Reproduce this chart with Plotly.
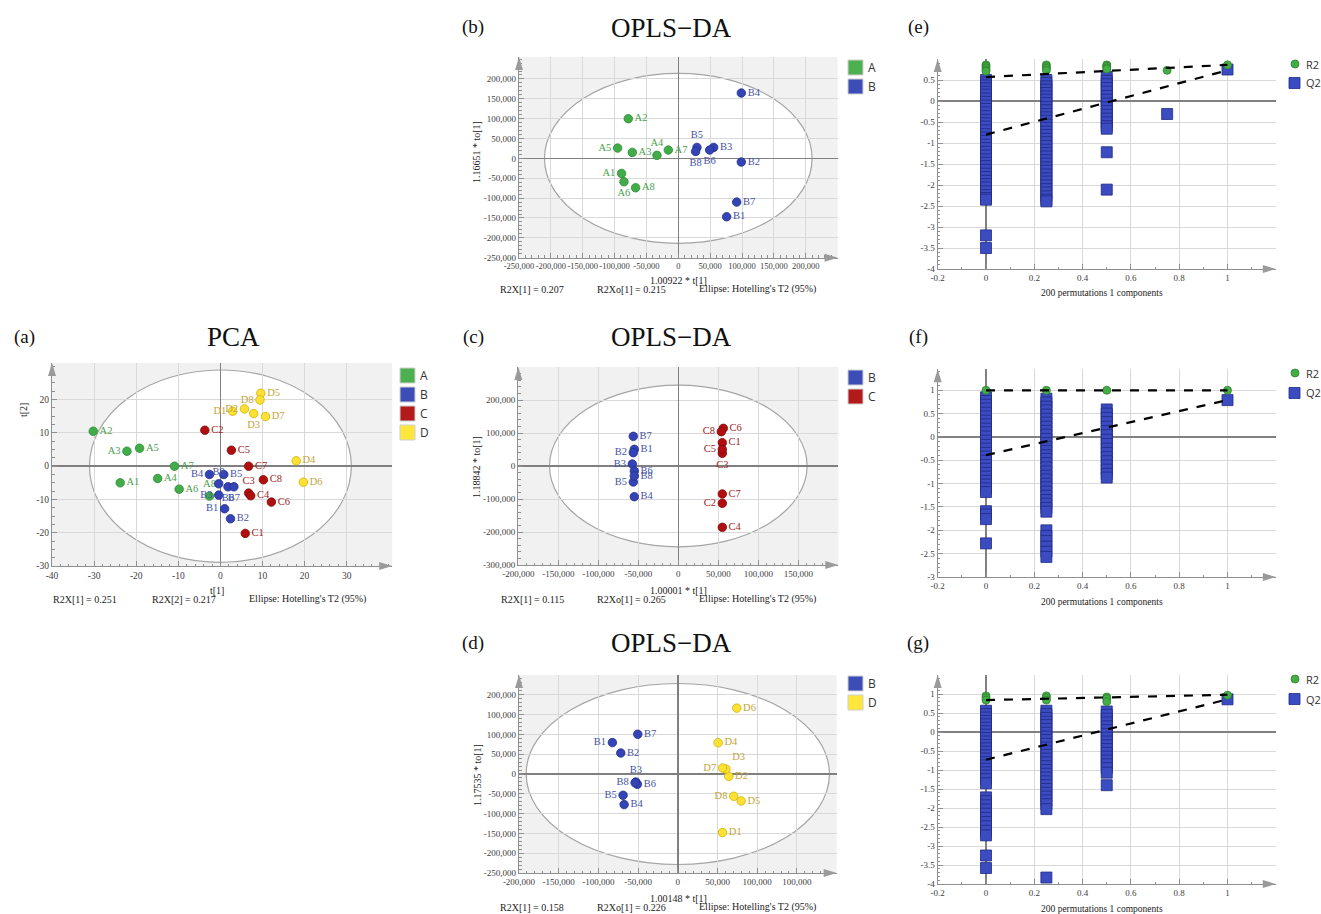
import plotly.graph_objects as go

W, H = 1321, 914
SERIF = "Liberation Serif"
SANS = "Open Sans"

# ---------------- data ----------------
# (a) PCA scores
pca_A_names = ["A1", "A2", "A3", "A4", "A5", "A6", "A7", "A8"]
pca_A_t1 = [-23.8, -30.2, -22.2, -14.9, -19.2, -9.8, -10.9, -2.6]
pca_A_t2 = [-5.0, 10.5, 4.5, -3.7, 5.4, -6.9, 0.0, -9.0]
pca_B_names = ["B1", "B2", "B3", "B4", "B5", "B6", "B7", "B8"]
pca_B_t1 = [1.0, 2.4, -0.4, -2.6, 0.8, 1.8, 3.2, -0.4]
pca_B_t2 = [-12.8, -15.8, -8.7, -2.5, -2.5, -6.2, -6.2, -5.3]
pca_C_names = ["C1", "C2", "C3", "C4", "C5", "C6", "C7", "C8"]
pca_C_t1 = [5.9, -3.7, 6.7, 7.2, 2.6, 12.1, 6.7, 10.2]
pca_C_t2 = [-20.2, 10.8, -8.1, -8.9, 4.8, -10.8, 0.0, -4.1]
pca_D_names = ["D1", "D2", "D3", "D4", "D5", "D6", "D7", "D8"]
pca_D_t1 = [2.9, 5.7, 7.9, 18.0, 9.6, 19.7, 10.7, 9.4]
pca_D_t2 = [16.5, 17.2, 15.8, 1.6, 21.9, -4.8, 14.9, 19.9]
pca_ellipse = [31.1, 28.9]

# (b) OPLS-DA A vs B
b_A_t = [-89000, -78500, -72200, -33500, -95200, -85300, -15700, -67000]
b_A_to = [-37800, 99900, 15100, 7600, 26000, -58800, 21000, -73900]
b_B_t = [75900, 98900, 55500, 98900, 29300, 49200, 91600, 27200]
b_B_to = [-146900, -9200, 27700, 164600, 27700, 21000, -110000, 17600]
b_ellipse = [210000, 214000]

# (c) OPLS-DA B vs C
c_B_t = [-55000, -56250, -57500, -55000, -56250, -55000, -56250, -55000]
c_B_to = [50500, 40400, 6000, -92900, -48500, -15200, 89900, -30300]
c_C_t = [55000, 55000, 55000, 55000, 55000, 56250, 55000, 53750]
c_C_to = [70700, -113100, 38400, -185900, 50500, 114100, -84800, 104000]
c_ellipse = [161000, 245000]

# (d) OPLS-DA B vs D
d_B_t = [-82400, -71800, -52900, -67600, -68900, -50900, -50400, -53800]
d_B_to = [79300, 53000, -20200, -77300, -53800, -26000, 100300, -22200]
d_D_t = [56300, 64200, 60500, 50800, 79800, 74300, 56300, 70500]
d_D_to = [-147900, -5900, 12600, 79000, -68100, 166400, 15100, -56300]
d_ellipse = [191000, 228500]

# permutation tests (x = correlation between permuted and original Y)
e_q2_x0 = [0.50, 0.44, 0.37, 0.30, 0.22, 0.15, 0.06, -0.02, -0.11, -0.19, -0.27, -0.36, -0.45,
           -0.53, -0.61, -0.70, -0.79, -0.87, -0.95, -1.04, -1.12, -1.21, -1.30, -1.39, -1.47,
           -1.55, -1.64, -1.73, -1.81, -1.90, -1.98, -2.06, -2.15, -2.24, -2.31, -2.35, -3.20, -3.50]
e_q2_x25 = [0.50, 0.43, 0.35, 0.27, 0.19, 0.11, 0.03, -0.05, -0.14, -0.22, -0.31, -0.39, -0.47,
            -0.56, -0.64, -0.73, -0.81, -0.90, -0.98, -1.07, -1.16, -1.24, -1.32, -1.41, -1.49,
            -1.58, -1.66, -1.75, -1.84, -1.92, -2.01, -2.10, -2.18, -2.27, -2.35, -2.39]
e_q2_x50 = [0.57, 0.48, 0.40, 0.31, 0.22, 0.12, 0.03, -0.06, -0.15, -0.24, -0.33, -0.42, -0.51,
            -0.60, -0.66, -1.22, -2.11]
e_q2_x75 = [-0.31]
e_q2_x100 = [0.75]
e_r2_x0 = [0.86, 0.83, 0.79, 0.74, 0.71]
e_r2_x25 = [0.86, 0.82, 0.78, 0.73]
e_r2_x50 = [0.86, 0.83, 0.79, 0.76]
e_r2_x75 = [0.73]
e_r2_x100 = [0.86]
e_r2_line = [0.57, 0.86]
e_q2_line = [-0.80, 0.73]

f_q2_x0 = [0.85, 0.77, 0.69, 0.61, 0.52, 0.44, 0.35, 0.27, 0.18, 0.10, 0.01, -0.08, -0.17, -0.25,
           -0.34, -0.42, -0.51, -0.60, -0.68, -0.77, -0.85, -0.94, -1.02, -1.10, -1.18, -1.59,
           -1.66, -1.76, -2.28]
f_q2_x25 = [0.82, 0.74, 0.65, 0.57, 0.48, 0.39, 0.31, 0.22, 0.13, 0.05, -0.04, -0.13, -0.21,
            -0.30, -0.39, -0.47, -0.56, -0.65, -0.74, -0.83, -0.91, -1.00, -1.08, -1.17, -1.26,
            -1.35, -1.43, -1.52, -1.60, -2.00, -2.12, -2.23, -2.35, -2.46, -2.57]
f_q2_x50 = [0.59, 0.50, 0.41, 0.32, 0.22, 0.13, 0.04, -0.06, -0.15, -0.25, -0.34, -0.43, -0.52,
            -0.61, -0.70, -0.79, -0.87]
f_q2_x100 = [0.79]
f_r2_x0 = [1.0]
f_r2_x25 = [1.0]
f_r2_x50 = [1.0]
f_r2_x100 = [1.0]
f_r2_line = [1.0, 1.0]
f_q2_line = [-0.39, 0.79]

g_q2_x0 = [0.56, 0.47, 0.38, 0.29, 0.20, 0.11, 0.02, -0.07, -0.16, -0.25, -0.34, -0.43, -0.52,
           -0.61, -0.70, -0.79, -0.88, -0.97, -1.06, -1.15, -1.24, -1.35, -1.72, -1.82, -1.93,
           -2.04, -2.15, -2.26, -2.37, -2.48, -2.60, -2.72, -3.25, -3.58]
g_q2_x25 = [0.56, 0.47, 0.37, 0.27, 0.18, 0.08, -0.02, -0.12, -0.21, -0.31, -0.41, -0.51, -0.60,
            -0.70, -0.80, -0.90, -1.00, -1.10, -1.20, -1.30, -1.40, -1.50, -1.60, -1.70, -1.80,
            -1.90, -2.03, -3.83]
g_q2_x50 = [0.54, 0.45, 0.35, 0.25, 0.15, 0.05, -0.05, -0.15, -0.25, -0.35, -0.45, -0.55, -0.65,
            -0.75, -0.85, -0.95, -1.07, -1.40]
g_q2_x100 = [0.86]
g_r2_x0 = [0.95, 0.90, 0.84]
g_r2_x25 = [0.95, 0.90, 0.84]
g_r2_x50 = [0.92, 0.88, 0.80]
g_r2_x100 = [0.97]
g_r2_line = [0.84, 0.98]
g_q2_line = [-0.73, 0.86]

perm_x_levels = [0, 0.25, 0.5, 0.75, 1]
line_x = [0, 1]

# ---------------- styles ----------------
MK = {"A": "#40ad48", "B": "#3444b6", "C": "#b10f0f", "D": "#ffe135"}
MK_LINE = {"A": "#2f8a36", "B": "#232f8c", "C": "#7d0a0a", "D": "#cdb100"}
TXT = {"A": "#4c9f4c", "B": "#4652a4", "C": "#a01c1c", "D": "#c2a53a"}
LEG = {"A": "#4cb050", "B": "#3c4db8", "C": "#b31b1b", "D": "#ffe63b"}

R, L, T, B, TR = "middle right", "middle left", "top center", "bottom center", "top right"
pca_A_pos = [R, R, L, R, R, R, R, T]
pca_B_pos = [L, R, L, L, R, B, B, T]
pca_C_pos = [R, R, T, R, R, R, R, R]
pca_D_pos = [L, L, B, R, R, R, R, L]
b_A_pos = [L, R, R, T, L, B, R, R]
b_B_pos = [R, R, R, R, T, B, R, B]
c_B_pos = [R, L, L, R, L, R, R, R]
c_C_pos = [R, L, B, R, L, R, R, L]
d_B_pos = [L, R, T, R, L, R, R, L]
d_D_pos = [R, R, TR, R, R, R, L, L]

# panel rectangles in pixels (x0, x1, y0, y1)
RECT = {
    "a": (52, 392.2, 363, 566),
    "b": (519, 837.6, 57.1, 257.7),
    "c": (518.3, 838.3, 367, 565),
    "d": (519, 836.6, 675, 873),
    "e": (937.7, 1275.8, 59, 269),
    "f": (937.7, 1275.8, 369.3, 577),
    "g": (937.7, 1275.8, 675, 884),
}
AX = {"a": "", "b": "2", "c": "3", "d": "4", "e": "5", "f": "6", "g": "7"}


def PX(v):
    return v / W


def PY(v):
    return 1 - v / H


def thousands(v):
    return f"{int(v):,}"


def short(v):
    return f"{v:g}"


fig = go.Figure()
layout = dict(
    width=W, height=H, margin=dict(l=0, r=0, t=0, b=0, pad=0, autoexpand=False),
    paper_bgcolor="white", plot_bgcolor="white",
    showlegend=False, font=dict(family=SERIF, color="#333333"),
)
shapes = []
annotations = []


def axis(panel, rng, tickvals, ticktext, minor_dtick, fontsize, is_x):
    x0, x1, y0, y1 = RECT[panel]
    dom = [PX(x0), PX(x1)] if is_x else [PY(y1), PY(y0)]
    return dict(
        domain=dom, range=rng, anchor=("y" if is_x else "x") + AX[panel],
        automargin=False, tickangle=0,
        tickmode="array", tickvals=tickvals, ticktext=ticktext,
        showgrid=True, gridcolor="#d9d9d9", gridwidth=1,
        zeroline=True, zerolinecolor="#808080", zerolinewidth=1.5,
        showline=True, linecolor="#8f8f8f", linewidth=1.2,
        ticks="inside", ticklen=5, tickcolor="#8f8f8f",
        tickfont=dict(family=SERIF, size=fontsize, color="#404040"),
        minor=dict(dtick=minor_dtick, ticks="inside", ticklen=2.5, tickcolor="#8f8f8f", showgrid=False),
        fixedrange=True,
    )


def setup_panel(panel, xr, yr, xt, xtt, yt, ytt, xminor, yminor, fs, xfs=None):
    k = AX[panel]
    layout["xaxis" + k] = axis(panel, xr, xt, xtt, xminor, xfs or fs, True)
    layout["yaxis" + k] = axis(panel, yr, yt, ytt, yminor, fs, False)
    x0, x1, y0, y1 = RECT[panel]
    col = "#9a9a9a"
    # arrow heads
    shapes.append(dict(type="path", xref="paper", yref="paper", line=dict(width=0), fillcolor=col,
                       path=f"M {PX(x1)},{PY(y1)} L {PX(x1-13)},{PY(y1-4)} L {PX(x1-13)},{PY(y1+4)} Z"))
    shapes.append(dict(type="path", xref="paper", yref="paper", line=dict(width=0), fillcolor=col,
                       path=f"M {PX(x0)},{PY(y0)} L {PX(x0-4)},{PY(y0+13)} L {PX(x0+4)},{PY(y0+13)} Z"))


def score_background(panel, radii):
    k = AX[panel]
    shapes.append(dict(type="rect", xref=f"x{k} domain", yref=f"y{k} domain", x0=0, x1=1, y0=0, y1=1,
                       fillcolor="#f1f1f1", line=dict(width=0), layer="below"))
    shapes.append(dict(type="circle", xref="x" + k, yref="y" + k, x0=-radii[0], x1=radii[0],
                       y0=-radii[1], y1=radii[1], fillcolor="white",
                       line=dict(color="#a5a5a5", width=1.2), layer="below"))


def add_group(panel, grp, xs, ys, names, pos):
    k = AX[panel]
    fig.add_trace(go.Scatter(
        x=xs, y=ys, mode="markers+text", text=names, textposition=pos,
        textfont=dict(family=SERIF, size=10.5, color=TXT[grp]),
        marker=dict(size=8.5, color=MK[grp], line=dict(color=MK_LINE[grp], width=0.8)),
        xaxis="x" + k, yaxis="y" + k, cliponaxis=False, hoverinfo="skip"))


def legend_boxes(x, ys, groups):
    for y, g in zip(ys, groups):
        shapes.append(dict(type="rect", xref="paper", yref="paper", x0=PX(x), x1=PX(x + 15),
                           y0=PY(y + 15), y1=PY(y), fillcolor=LEG[g], line=dict(color="#cfcfcf", width=1)))
        annotations.append(dict(text=g, x=PX(x + 18), y=PY(y + 7.5), xref="paper", yref="paper",
                                xanchor="left", yanchor="middle", showarrow=False,
                                font=dict(family=SANS, size=12, color="#333333")))


def text(t, x, y, size, angle=0, anchor="center", family=SERIF, color="#222222"):
    annotations.append(dict(text=t, x=PX(x), y=PY(y), xref="paper", yref="paper", xanchor=anchor,
                            yanchor="middle", showarrow=False, textangle=angle,
                            font=dict(family=family, size=size, color=color)))


# ---------------- (a) PCA ----------------
pca_xt = list(range(-40, 31, 10))
pca_yt = list(range(-30, 21, 10))
setup_panel("a", [-40, 40.8], [-30, 31], pca_xt, [short(v) for v in pca_xt], pca_yt,
            [short(v) for v in pca_yt], 2, 2.5, 9.5)
score_background("a", pca_ellipse)
add_group("a", "A", pca_A_t1, pca_A_t2, pca_A_names, pca_A_pos)
add_group("a", "B", pca_B_t1, pca_B_t2, pca_B_names, pca_B_pos)
add_group("a", "C", pca_C_t1, pca_C_t2, pca_C_names, pca_C_pos)
add_group("a", "D", pca_D_t1, pca_D_t2, pca_D_names, pca_D_pos)
legend_boxes(400, [368, 387, 406, 425], ["A", "B", "C", "D"])

# ---------------- (b) ----------------
b_xt = list(range(-250000, 200001, 50000))
b_yt = list(range(-250000, 200001, 50000))
setup_panel("b", [-250000, 250000], [-250000, 255000], b_xt, [thousands(v) for v in b_xt],
            b_yt, [thousands(v) for v in b_yt], 10000, 10000, 9, xfs=8.5)
score_background("b", b_ellipse)
add_group("b", "A", b_A_t, b_A_to, pca_A_names, b_A_pos)
add_group("b", "B", b_B_t, b_B_to, pca_B_names, b_B_pos)
legend_boxes(848, [60, 79], ["A", "B"])

# ---------------- (c) ----------------
c_xt = list(range(-200000, 150001, 50000))
c_yt = list(range(-300000, 200001, 100000))
setup_panel("c", [-200000, 200000], [-300000, 300000], c_xt, [thousands(v) for v in c_xt],
            c_yt, [thousands(v) for v in c_yt], 10000, 20000, 9)
score_background("c", c_ellipse)
add_group("c", "B", c_B_t, c_B_to, pca_B_names, c_B_pos)
add_group("c", "C", c_C_t, c_C_to, pca_C_names, c_C_pos)
legend_boxes(848, [370, 389], ["B", "C"])

# ---------------- (d) ----------------
d_xt = list(range(-200000, 150001, 50000))
d_xtt = ["-200,000", "-150,000", "-100,000", "-50,000", "0", "50,000", "100,000", "100,000"]
d_yt = list(range(-250000, 200001, 50000))
d_ytt = ["-250,000", "-200,000", "-150,000", "-100,000", "-50,000", "0", "50,000", "100,000",
         "100,000", "200,000"]
setup_panel("d", [-200000, 200000], [-250000, 250000], d_xt, d_xtt, d_yt, d_ytt, 10000, 10000, 9)
score_background("d", d_ellipse)
add_group("d", "B", d_B_t, d_B_to, pca_B_names, d_B_pos)
add_group("d", "D", d_D_t, d_D_to, pca_D_names, d_D_pos)
legend_boxes(848, [676, 695], ["B", "D"])

# ---------------- permutation panels ----------------
perm_xt = [-0.2, 0, 0.2, 0.4, 0.6, 0.8, 1]


def perm_panel(panel, yr, ytop, q2_cols, r2_cols, r2_line, q2_line):
    k = AX[panel]
    yt = [v / 2 for v in range(int(yr[0] * 2), int(ytop * 2) + 1)]
    setup_panel(panel, [-0.2, 1.2], yr, perm_xt, [short(v) for v in perm_xt], yt,
                [short(v) for v in yt], 0.1, 0.1, 9)
    qx, qy, rx, ry = [], [], [], []
    for xv, col in zip(perm_x_levels, q2_cols):
        qx += [xv] * len(col)
        qy += col
    for xv, col in zip(perm_x_levels, r2_cols):
        rx += [xv] * len(col)
        ry += col
    fig.add_trace(go.Scatter(x=qx, y=qy, mode="markers", xaxis="x" + k, yaxis="y" + k,
                             marker=dict(symbol="square", size=11, color="#3b4cc0",
                                         line=dict(color="#1f2a85", width=0.8)),
                             cliponaxis=False, hoverinfo="skip"))
    fig.add_trace(go.Scatter(x=rx, y=ry, mode="markers", xaxis="x" + k, yaxis="y" + k,
                             marker=dict(symbol="circle", size=8, color="#45ad45",
                                         line=dict(color="#2e8030", width=0.8)),
                             cliponaxis=False, hoverinfo="skip"))
    for ln in (r2_line, q2_line):
        fig.add_trace(go.Scatter(x=line_x, y=ln, mode="lines", xaxis="x" + k, yaxis="y" + k,
                                 line=dict(color="black", width=2.2, dash="dash"), hoverinfo="skip"))


perm_panel("e", [-4, 1.0], 0.5, [e_q2_x0, e_q2_x25, e_q2_x50, e_q2_x75, e_q2_x100],
           [e_r2_x0, e_r2_x25, e_r2_x50, e_r2_x75, e_r2_x100], e_r2_line, e_q2_line)
perm_panel("f", [-3, 1.45], 1.0, [f_q2_x0, f_q2_x25, f_q2_x50, [], f_q2_x100],
           [f_r2_x0, f_r2_x25, f_r2_x50, [], f_r2_x100], f_r2_line, f_q2_line)
perm_panel("g", [-4, 1.5], 1.0, [g_q2_x0, g_q2_x25, g_q2_x50, [], g_q2_x100],
           [g_r2_x0, g_r2_x25, g_r2_x50, [], g_r2_x100], g_r2_line, g_q2_line)

for yc, ys in [(64, 83), (373, 393), (679, 699)]:
    shapes.append(dict(type="circle", xref="paper", yref="paper", x0=PX(1291), x1=PX(1299),
                       y0=PY(yc + 4), y1=PY(yc - 4), fillcolor="#45ad45", line=dict(color="#2e8030", width=0.8)))
    shapes.append(dict(type="rect", xref="paper", yref="paper", x0=PX(1289), x1=PX(1300),
                       y0=PY(ys + 5.5), y1=PY(ys - 5.5), fillcolor="#3b4cc0", line=dict(color="#1f2a85", width=0.8)))
    text("R2", 1304, yc, 11, anchor="left", family=SANS, color="#333333")
    text("Q2", 1304, ys, 11, anchor="left", family=SANS, color="#333333")

# ---------------- titles and text ----------------
text("PCA", 233, 337, 27, color="#111111")
for y in (28, 337, 643):
    text("OPLS\u2212DA", 671, y, 27, color="#111111")
for lab, x, y in [("(a)", 24, 337), ("(b)", 473, 27), ("(c)", 473, 337), ("(d)", 473, 643),
                  ("(e)", 918, 27), ("(f)", 918, 337), ("(g)", 918, 643)]:
    text(lab, x, y, 19, color="#111111")

text("t[1]", 217, 590, 10)
text("t[2]", 23, 410, 10, angle=-90)
text("1.00922 * t[1]", 678, 280, 10)
text("1.16651 * to[1]", 477, 152, 10, angle=-90)
text("1.00001 * t[1]", 678, 590, 10)
text("1.18842 * to[1]", 477, 467, 10, angle=-90)
text("1.00148 * t[1]", 678, 898, 10)
text("1.17535 * to[1]", 477, 775, 10, angle=-90)

ell = "Ellipse: Hotelling's T2 (95%)"
for y, a1, a2 in [(599, "R2X[1] = 0.251", "R2X[2] = 0.217")]:
    text(a1, 85, y, 10)
    text(a2, 184, y, 10)
    text(ell, 307, y, 10)
for y, a1, a2 in [(289, "R2X[1] = 0.207", "R2Xo[1] = 0.215"),
                  (599, "R2X[1] = 0.115", "R2Xo[1] = 0.265"),
                  (907, "R2X[1] = 0.158", "R2Xo[1] = 0.226")]:
    text(a1, 532, y, 10)
    text(a2, 631, y, 10)
    text(ell, 757, y, 10)
for y in (293, 602, 909):
    text("200 permutations 1 components", 1102, y, 9.5)

layout["shapes"] = shapes
layout["annotations"] = annotations
fig.update_layout(**layout)
fig.write_html(
    "out.html",
    config={"displayModeBar": False, "staticPlot": True},
    post_script="document.body.style.margin='0';document.body.style.overflow='hidden';",
)
